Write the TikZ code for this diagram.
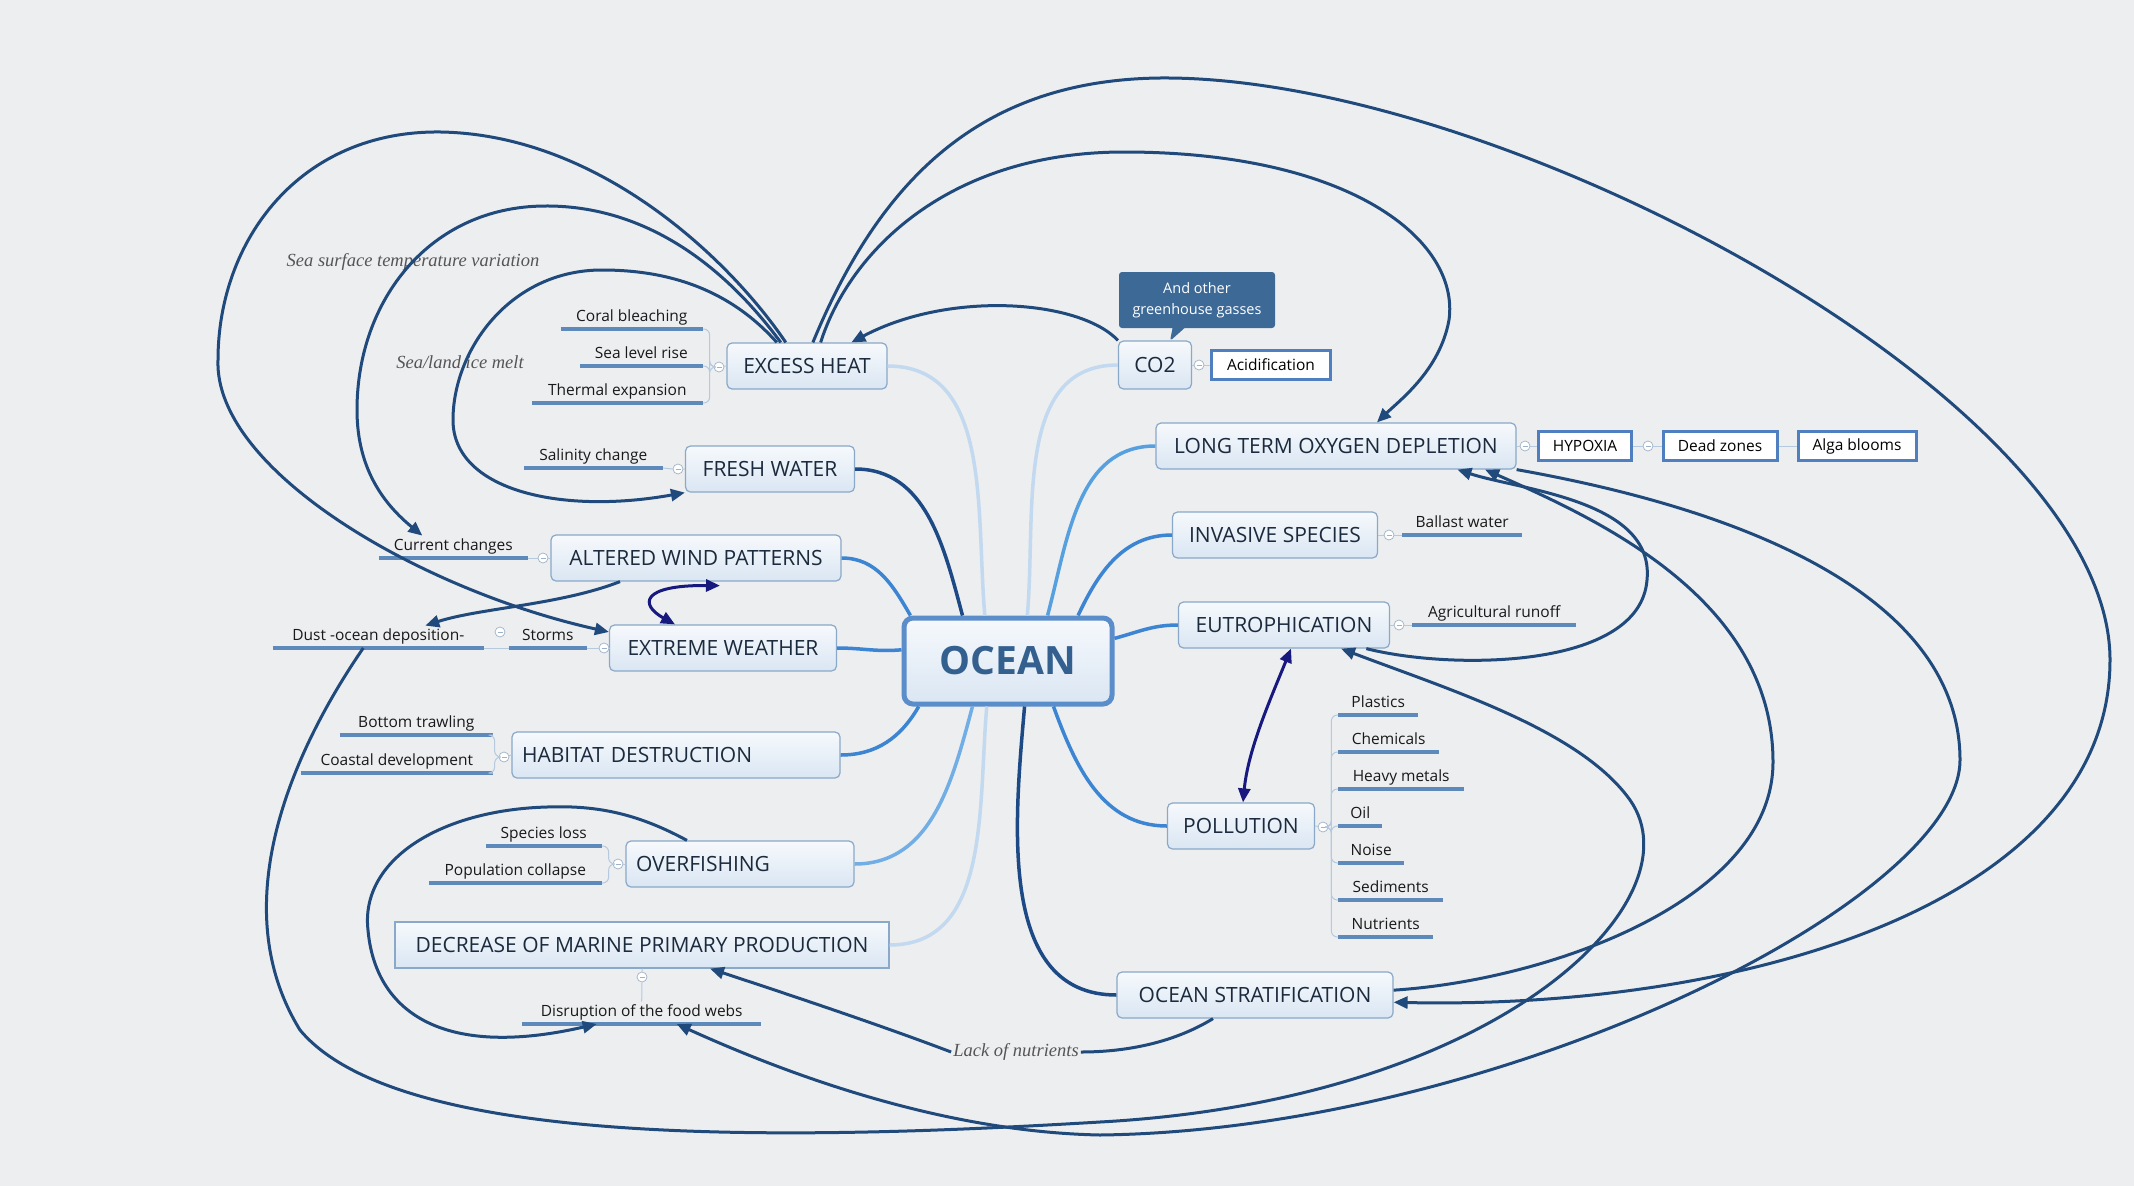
\documentclass[tikz,border=0pt]{standalone}
\usepackage{fontspec}
\setmainfont{Open Sans}
\newfontfamily\notefont{Liberation Serif}
\usetikzlibrary{arrows.meta, shapes.callouts, calc}

\definecolor{bgcol}{HTML}{EDEEF0}
\definecolor{boxline}{HTML}{8AA8C8}
\definecolor{boxtop}{HTML}{F6F9FC}
\definecolor{boxbot}{HTML}{DAE6F3}
\definecolor{boxtext}{HTML}{1B2A3D}
\definecolor{oceanline}{HTML}{5A8DCA}
\definecolor{oceantext}{HTML}{34608F}
\definecolor{tagline}{HTML}{4F7FBE}
\definecolor{lineblue}{HTML}{5D89BB}
\definecolor{foldline}{HTML}{9DB2C8}
\definecolor{twigcol}{HTML}{B5CADF}
\definecolor{relcol}{HTML}{1F4A7B}
\definecolor{duocol}{HTML}{17197F}
\definecolor{notecol}{HTML}{555555}
\definecolor{bubblecol}{HTML}{3D6997}
\definecolor{brpale}{HTML}{C2D9EF}
\definecolor{brdark}{HTML}{1D4A85}
\definecolor{brmid}{HTML}{3C85D2}
\definecolor{brsoft}{HTML}{72AEE6}
\definecolor{brsky}{HTML}{57A0E0}

\tikzset{
    topic/.style={draw=boxline, line width=1.2, rounded corners=5, top color=boxtop, bottom color=boxbot,
        text=boxtext, font=\fontsize{21}{25}\selectfont, minimum height=46, inner xsep=10, inner ysep=0},
    hub/.style={draw=oceanline, line width=5, rounded corners=9, top color=boxtop, bottom color=boxbot,
        text=oceantext, font=\bfseries\fontsize{39}{44}\selectfont, minimum width=208, minimum height=86},
    tag/.style={draw=tagline, line width=3, fill=white, text=black, font=\fontsize{15.5}{18}\selectfont,
        minimum height=29, inner xsep=6, inner ysep=0},
    leaf/.style={text=black!90, font=\fontsize{15.5}{18}\selectfont, inner xsep=0, inner ysep=3,
        text height=12, text depth=4},
    uline/.style={draw=lineblue, line width=3.5},
    fold/.style={circle, draw=foldline, fill=white, line width=0.7, minimum size=10, inner sep=0,
        path picture={\draw[foldline, line width=0.7] ([xshift=-2.5pt]path picture bounding box.center)
            -- ([xshift=2.5pt]path picture bounding box.center);}},
    twig/.style={draw=twigcol, line width=1, rounded corners=6},
    branch/.style={line width=3.5},
    rel/.style={draw=relcol, line width=3, -{Triangle[length=14pt,width=12pt]}},
    duo/.style={draw=duocol, line width=3, {Triangle[length=14pt,width=12pt]}-{Triangle[length=14pt,width=12pt]}},
    note/.style={text=notecol, inner sep=2, font=\notefont\itshape\fontsize{18.5}{22}\selectfont},
    bubble/.style={rectangle callout, fill=bubblecol, text=white, rounded corners=3, align=center,
        font=\fontsize{14.5}{21}\selectfont, minimum width=156, minimum height=56, inner sep=0,
        callout pointer width=12}
}

\begin{document}
\begin{tikzpicture}[x=1pt, y=-1pt]
    \useasboundingbox (0,0) rectangle (2134,1186);
    \fill[bgcol] (0,0) rectangle (2134,1186);

    % topics
    \node[hub] (ocean) at (1008,661) {OCEAN};
    \node[topic, minimum width=160] (eh) at (807,366) {EXCESS HEAT};
    \node[topic, minimum width=169] (fw) at (770,469) {FRESH WATER};
    \node[topic, minimum width=290] (awp) at (696,558) {ALTERED WIND PATTERNS};
    \node[topic, minimum width=227] (ew) at (723,648) {EXTREME WEATHER};
    \node[topic, text width=308, align=left] (hd) at (676,755) {HABITAT DESTRUCTION};
    \node[topic, text width=208, align=left] (of) at (740,864) {OVERFISHING};
    \node[topic, sharp corners, minimum width=494] (dec) at (642,945) {DECREASE OF MARINE PRIMARY PRODUCTION};
    \node[topic, minimum width=73, minimum height=48] (co2) at (1155,365) {CO2};
    \node[topic, minimum width=360] (ltod) at (1336,446) {LONG TERM OXYGEN DEPLETION};
    \node[topic, minimum width=205] (is) at (1275,535) {INVASIVE SPECIES};
    \node[topic, minimum width=211] (eu) at (1284,625) {EUTROPHICATION};
    \node[topic, minimum width=147] (pol) at (1241,826) {POLLUTION};
    \node[topic, minimum width=276] (os) at (1255,995) {OCEAN STRATIFICATION};

    % boxed details
    \node[tag, minimum width=119] (acid) at (1271,365) {Acidification};
    \node[tag, minimum width=93] (hyp) at (1585,446) {HYPOXIA};
    \node[tag, minimum width=114] (dz) at (1720,446) {Dead zones};
    \node[tag, minimum width=118] (ab) at (1857,446) {Alga blooms};
    \node[bubble, callout absolute pointer={(1170,341)}] (gas) at (1197,300) {And other\\greenhouse gasses};

    % leaves, left side
    \node[leaf, minimum width=142, anchor=south east] (coral) at (703,329) {Coral bleaching};
    \node[leaf, minimum width=123, anchor=south east] (slr) at (703,366) {Sea level rise};
    \node[leaf, minimum width=171, anchor=south east] (thexp) at (703,403) {Thermal expansion};
    \node[leaf, minimum width=139, anchor=south east] (sal) at (663,468) {Salinity change};
    \node[leaf, minimum width=149, anchor=south east] (cur) at (528,558) {Current changes};
    \node[leaf, minimum width=78, anchor=south east] (storms) at (587,648) {Storms};
    \node[leaf, minimum width=211, anchor=south east] (dust) at (484,648) {Dust -ocean deposition-};
    \node[leaf, minimum width=153, anchor=south east] (bt) at (493,735) {Bottom trawling};
    \node[leaf, minimum width=192, anchor=south east] (cd) at (493,773) {Coastal development};
    \node[leaf, minimum width=116, anchor=south east] (sp) at (602,846) {Species loss};
    \node[leaf, minimum width=173, anchor=south east] (pc) at (602,883) {Population collapse};
    \node[leaf, minimum width=239, anchor=south west] (dis) at (522,1024) {Disruption of the food webs};

    % leaves, right side
    \node[leaf, minimum width=120, anchor=south west] (ballast) at (1402,535) {Ballast water};
    \node[leaf, minimum width=164, anchor=south west] (agri) at (1412,625) {Agricultural runoff};
    \node[leaf, minimum width=80, anchor=south west] (plast) at (1338,715) {Plastics};
    \node[leaf, minimum width=101, anchor=south west] (chem) at (1338,752) {Chemicals};
    \node[leaf, minimum width=126, anchor=south west] (heavy) at (1338,789) {Heavy metals};
    \node[leaf, minimum width=44, anchor=south west] (oil) at (1338,826) {Oil};
    \node[leaf, minimum width=66, anchor=south west] (noise) at (1338,863) {Noise};
    \node[leaf, minimum width=105, anchor=south west] (sed) at (1338,900) {Sediments};
    \node[leaf, minimum width=95, anchor=south west] (nut) at (1338,937) {Nutrients};

    \foreach \n in {coral,slr,thexp,sal,cur,storms,dust,bt,cd,sp,pc,dis,ballast,agri,plast,chem,heavy,oil,noise,sed,nut}
        \draw[uline] (\n.south west) -- (\n.south east);

    % labels on the curves
    \node[note] (sst) at (413,262) {Sea surface temperature variation};
    \node[note] (ice) at (460,362) {Sea/land ice melt};
    \node[note] (lack) at (1016,1052) {Lack of nutrients};

    % fold markers
    \node[fold] (ehc) at (719,367) {};
    \node[fold] (fwc) at (678,469) {};
    \node[fold] (awpc) at (543,558) {};
    \node[fold] (ewc) at (604,648) {};
    \node[fold] (stc) at (500,632) {};
    \node[fold] (hdc) at (504,757) {};
    \node[fold] (ofc) at (618,864) {};
    \node[fold] (decc) at (642,977) {};
    \node[fold] (co2c) at (1199,365) {};
    \node[fold] (ltodc) at (1525,446) {};
    \node[fold] (hypc) at (1648,446) {};
    \node[fold] (isc) at (1389,535) {};
    \node[fold] (euc) at (1399,625) {};
    \node[fold] (polc) at (1323,827) {};

    % twigs
    \draw[twig] (eh.west) -- (ehc);
    \foreach \n in {coral,slr,thexp}
        \draw[twig] (ehc.west) -- ++(-4,0) |- (\n.south east);
    \draw[twig] (fw.west) -- (fwc) (fwc.west) -- (sal.south east);
    \draw[twig] (awp.west) -- (awpc) (awpc.west) -- (cur.south east);
    \draw[twig] (ew.west) -- (ewc) (ewc.west) -- (storms.south east);
    \draw[twig] (storms.south west) -- (dust.south east);
    \draw[twig] (hd.west) -- (hdc);
    \foreach \n in {bt,cd}
        \draw[twig] (hdc.west) -- ++(-4,0) |- (\n.south east);
    \draw[twig] (of.west) -- (ofc);
    \foreach \n in {sp,pc}
        \draw[twig] (ofc.west) -- ++(-4,0) |- (\n.south east);
    \draw[twig] (dec.south) -- (decc) (decc.south) -- (dis.north);
    \draw[twig] (co2.east) -- (co2c) (co2c.east) -- (acid.west);
    \draw[twig] (ltod.east) -- (ltodc) (ltodc.east) -- (hyp.west);
    \draw[twig] (hyp.east) -- (hypc) (hypc.east) -- (dz.west) (dz.east) -- (ab.west);
    \draw[twig] (is.east) -- (isc) (isc.east) -- (ballast.south west);
    \draw[twig] (eu.east) -- (euc) (euc.east) -- (agri.south west);
    \draw[twig] (pol.east) -- (polc);
    \foreach \n in {plast,chem,heavy,oil,noise,sed,nut}
        \draw[twig] (polc.east) -- ++(3,0) |- (\n.south west);

    % branches from the hub
    \draw[branch, brdark] (ocean.135) to[out=105,in=0] (fw.east);
    \draw[branch, brpale] (ocean.117) to[out=95,in=0] (eh.east);
    \draw[branch, brpale] (ocean.67) to[out=85,in=180] (co2.west);
    \draw[branch, brsky] (ocean.49) to[out=75,in=180] (ltod.west);
    \draw[branch, brmid] (ocean.33) to[out=65,in=180] (is.west);
    \draw[branch, brmid] (ocean.155) to[out=120,in=0] (awp.east);
    \draw[branch, brmid] (ocean.174) to[out=185,in=0] (ew.east);
    \draw[branch, brmid] (ocean.207) to[out=240,in=0] (hd.east);
    \draw[branch, brsoft] (ocean.232) to[out=255,in=0] (of.east);
    \draw[branch, brpale] (ocean.245) to[out=265,in=0] (dec.east);
    \draw[branch, brdark] (ocean.290) to[out=265,in=180] (os.west);
    \draw[branch, brmid] (ocean.315) to[out=290,in=180] (pol.west);
    \draw[branch, brmid] (ocean.12) to[out=15,in=180] (eu.west);

    % relationships
    \draw[rel] (eh.132) .. controls (730,260) and (600,135) .. (441,132)
        .. controls (300,130) and (218,240) .. (218,360)
        .. controls (214,470) and (420,590) .. (ew.172);
    \draw[rel] (eh.138) .. controls (720,260) and (640,205) .. (544,206)
        .. controls (430,207) and (357,300) .. (357,410)
        .. controls (357,470) and (385,505) .. ($(cur.north)+(-31,0)$);
    \draw[rel] (eh.142) .. controls (730,290) and (670,270) .. (602,270)
        .. controls (510,270) and (453,350) .. (453,420)
        .. controls (453,490) and (560,515) .. (fw.south west);
    \draw[rel] (eh.60) .. controls (850,250) and (950,152) .. (1124,152)
        .. controls (1350,152) and (1460,240) .. (1449,320)
        .. controls (1440,370) and (1400,400) .. ($(ltod.north)+(41,0)$);
    \draw[rel] (eh.76) .. controls (880,180) and (980,80) .. (1160,78)
        .. controls (1500,75) and (2110,400) .. (2110,660)
        .. controls (2110,900) and (1750,1010) .. (os.357);
    \draw[rel] (co2.north west) .. controls (1080,300) and (950,290) .. (eh.28);
    \draw[rel] (eu.344) .. controls (1450,670) and (1640,670) .. (1647,580)
        .. controls (1655,500) and (1520,490) .. (ltod.349);
    \draw[rel] (os.2) .. controls (1550,980) and (1773,900) .. (1773,762)
        .. controls (1773,600) and (1600,520) .. (ltod.351);
    \draw[rel] (ltod.south east) .. controls (1800,520) and (1960,620) .. (1960,760)
        .. controls (1960,900) and (1500,1130) .. (1100,1135)
        .. controls (950,1132) and (800,1080) .. ($(dis.south)+(35,0)$);
    \draw[rel] ($(dust.south)+(-15,0)$) .. controls (300,740) and (220,900) .. (300,1030)
        .. controls (400,1150) and (800,1140) .. (1100,1122)
        .. controls (1500,1100) and (1700,900) .. (1630,800)
        .. controls (1580,730) and (1450,690) .. ($(eu.south)+(57,0)$);
    \draw[rel, -] ($(os.south)+(-42,0)$) .. controls (1170,1045) and (1120,1052) .. (lack.east);
    \draw[rel] (lack.west) .. controls (880,1025) and (790,995) .. ($(dec.south)+(68,0)$);
    \draw[rel] ($(of.north)+(-53,0)$) .. controls (640,815) and (600,805) .. (547,807)
        .. controls (440,810) and (360,860) .. (368,930)
        .. controls (375,1010) and (440,1060) .. ($(dis.south)+(-45,0)$);
    \draw[rel] ($(awp.south)+(-76,0)$) .. controls (560,605) and (480,608) .. ($(dust.north)+(47,0)$);
    \draw[duo] ($(ew.north)+(-48,0)$) .. controls (640,605) and (640,585) .. ($(awp.south)+(24,4)$);
    \draw[duo] ($(eu.south)+(7,0)$) .. controls (1270,700) and (1248,750) .. ($(pol.north)+(2,0)$);
\end{tikzpicture}
\end{document}
